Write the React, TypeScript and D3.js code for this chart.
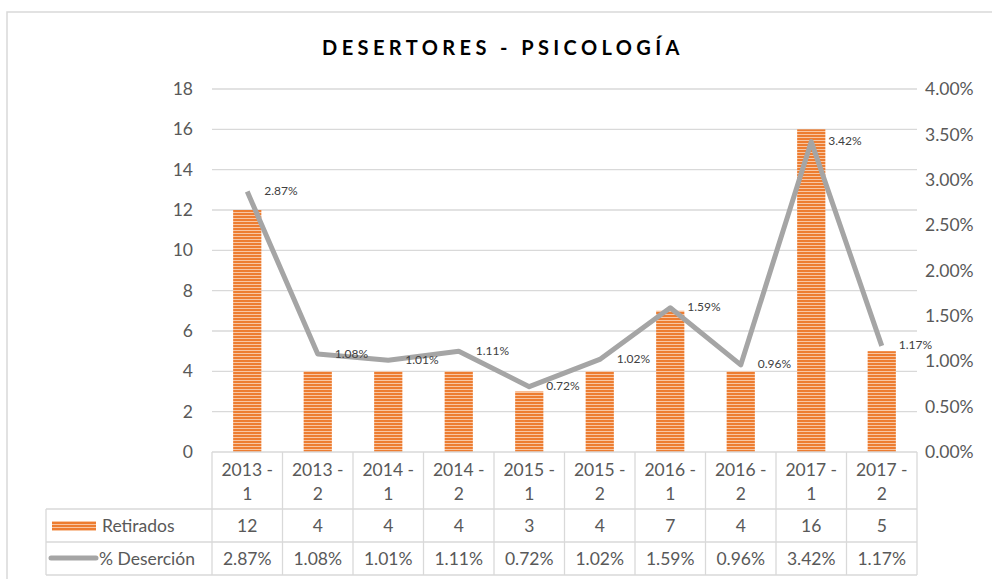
import React from 'react';
import * as d3 from 'd3';

const categories = ['2013 - 1', '2013 - 2', '2014 - 1', '2014 - 2', '2015 - 1', '2015 - 2', '2016 - 1', '2016 - 2', '2017 - 1', '2017 - 2'];
const retirados = [12, 4, 4, 4, 3, 4, 7, 4, 16, 5];
const desercion = [2.87, 1.08, 1.01, 1.11, 0.72, 1.02, 1.59, 0.96, 3.42, 1.17];
const leftTicks = [0, 2, 4, 6, 8, 10, 12, 14, 16, 18];
const rightTicks = [0, 0.5, 1, 1.5, 2, 2.5, 3, 3.5, 4];

const W = 992;
const H = 579;
const margin = { top: 89, left: 212, right: 917, bottom: 452 };
const FONT = 'Lato, "Open Sans", sans-serif';
const TXT = '#595959';
const GRID = '#d9d9d9';
const ORANGE = '#ed7d31';
const LINE = '#a5a5a5';
const FS = 17.5;

export default function App() {
  const x = d3.scaleBand<string>().domain(categories).range([margin.left, margin.right]).padding(0);
  const yLeft = d3.scaleLinear().domain([0, 18]).range([margin.bottom, margin.top]);
  const yRight = d3.scaleLinear().domain([0, 4]).range([margin.bottom, margin.top]);
  const bw = x.bandwidth();
  const barW = bw * 0.4;
  const cx = (c: string) => (x(c) as number) + bw / 2;

  const line = d3.line<number>()
    .x((_, i) => cx(categories[i]))
    .y(d => yRight(d));

  const rowTop = 509;
  const rowMid = 542;
  const rowBot = 575;
  const tableLeft = 46;

  return (
    <svg width={W} height={H} style={{ position: 'absolute', left: 0, top: 0, background: '#fff' }} fontFamily={FONT}>
      <defs>
        <pattern id="stripes" patternUnits="userSpaceOnUse" width={8} height={3}>
          <rect width={8} height={3} fill={ORANGE} />
          <rect y={2} width={8} height={1} fill="#f8c6a3" />
        </pattern>
      </defs>
      <rect x={7} y={12} width={W} height={H} fill="#fff" stroke={GRID} strokeWidth={1.5} />

      <text x={503} y={55} textAnchor="middle" fontSize={20} fontWeight="bold" letterSpacing={4.4} fill="#000">
        DESERTORES - PSICOLOGÍA
      </text>

      {/* grid */}
      {leftTicks.filter(t => t > 0).map(t => (
        <line key={t} x1={margin.left} x2={margin.right} y1={yLeft(t)} y2={yLeft(t)} stroke={GRID} strokeWidth={1.3} />
      ))}

      {/* left axis labels */}
      {leftTicks.map(t => (
        <text key={t} x={193} y={yLeft(t)} dy="0.35em" textAnchor="end" fontSize={FS} fill={TXT}>{t}</text>
      ))}
      {/* right axis labels */}
      {rightTicks.map(t => (
        <text key={t} x={925} y={yRight(t)} dy="0.35em" textAnchor="start" fontSize={FS} fill={TXT}>{d3.format('.2f')(t)}%</text>
      ))}

      {/* bars */}
      {categories.map((c, i) => (
        <rect key={c} x={cx(c) - barW / 2} y={yLeft(retirados[i])} width={barW}
          height={yLeft(0) - yLeft(retirados[i])} fill="url(#stripes)" />
      ))}

      {/* line */}
      <path d={line(desercion) || ''} fill="none" stroke={LINE} strokeWidth={5} strokeLinejoin="round" />
      {desercion.map((d, i) => (
        <text key={i} x={cx(categories[i]) + 17} y={yRight(d)} dy="0.3em" fontSize={12} fill="#404040">
          {d3.format('.2f')(d)}%
        </text>
      ))}

      {/* data table */}
      <g stroke={GRID} strokeWidth={1.3}>
        <line x1={margin.left} x2={margin.right} y1={margin.bottom} y2={margin.bottom} />
        <line x1={tableLeft} x2={margin.right} y1={rowTop} y2={rowTop} />
        <line x1={tableLeft} x2={margin.right} y1={rowMid} y2={rowMid} />
        <line x1={tableLeft} x2={margin.right} y1={rowBot} y2={rowBot} />
        <line x1={tableLeft} x2={tableLeft} y1={rowTop} y2={rowBot} />
        {categories.map(c => (
          <line key={c} x1={x(c)} x2={x(c)} y1={margin.bottom} y2={rowBot} />
        ))}
        <line x1={margin.right} x2={margin.right} y1={margin.bottom} y2={rowBot} />
      </g>
      {categories.map((c, i) => {
        const [a, b] = c.split(' - ');
        return (
          <g key={c} fontSize={FS} fill={TXT} textAnchor="middle">
            <text x={cx(c)} y={476}>{a} -</text>
            <text x={cx(c)} y={500}>{b}</text>
            <text x={cx(c)} y={(rowTop + rowMid) / 2} dy="0.35em">{retirados[i]}</text>
            <text x={cx(c)} y={(rowMid + rowBot) / 2} dy="0.35em">{d3.format('.2f')(desercion[i])}%</text>
          </g>
        );
      })}

      {/* legend keys */}
      <rect x={52} y={521} width={44} height={10} fill="url(#stripes)" />
      <text x={102} y={(rowTop + rowMid) / 2} dy="0.35em" fontSize={FS} fill={TXT}>Retirados</text>
      <line x1={51} x2={96} y1={558} y2={558} stroke={LINE} strokeWidth={5} strokeLinecap="round" />
      <text x={99} y={(rowMid + rowBot) / 2} dy="0.35em" fontSize={FS} fill={TXT}>% Deserción</text>
    </svg>
  );
}
